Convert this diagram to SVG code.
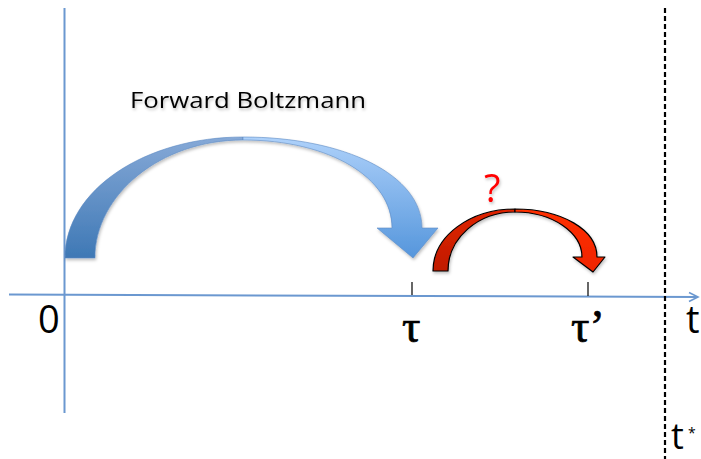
<svg xmlns="http://www.w3.org/2000/svg" width="701" height="459" viewBox="0 0 701 459">
<style>
.axis{stroke:#6b98d0;stroke-width:2;fill:none}
.tick{stroke:#000;stroke-width:1.2}
.lbl{font-family:"Open Sans","Liberation Sans",sans-serif;fill:#000}
.greek{font-family:"Liberation Serif","DejaVu Serif",serif;fill:#000;stroke:#000;stroke-width:0.7}
</style>
<defs>
<linearGradient id="bL" x1="0" y1="0" x2="0" y2="1"><stop offset="0" stop-color="#86a9d7"/><stop offset="1" stop-color="#3e78b5"/></linearGradient>
<linearGradient id="bR" x1="0" y1="0" x2="0" y2="1"><stop offset="0" stop-color="#aed1fa"/><stop offset="1" stop-color="#5596dc"/></linearGradient>
<linearGradient id="rL" x1="0" y1="0" x2="0" y2="1"><stop offset="0" stop-color="#e02400"/><stop offset="1" stop-color="#c01c00"/></linearGradient>
<linearGradient id="rR" x1="0" y1="0" x2="0" y2="1"><stop offset="0" stop-color="#ff3000"/><stop offset="1" stop-color="#f02400"/></linearGradient>
<marker id="ah" markerWidth="12" markerHeight="12" refX="10" refY="6" orient="auto" markerUnits="userSpaceOnUse"><path d="M1,1.5 L10,6 L1,10.5" fill="none" stroke="#6b98d0" stroke-width="1.6"/></marker>
<filter id="sh" x="-10%" y="-10%" width="120%" height="130%"><feDropShadow dx="1" dy="2" stdDeviation="1.5" flood-opacity="0.25"/></filter>
</defs>
<g id="axes">
<line class="axis" x1="64.5" y1="8" x2="64.5" y2="413"/>
<line class="axis" x1="9" y1="294.5" x2="698" y2="297" marker-end="url(#ah)"/>
<line class="tick" x1="412" y1="282" x2="412" y2="295"/>
<line class="tick" x1="588" y1="282" x2="588" y2="296"/>
<line x1="665" y1="8" x2="665" y2="459" stroke="#000" stroke-width="2.2" stroke-dasharray="5 3"/>
</g>
<g id="labels">
<text class="lbl" x="38" y="333" font-size="38">0</text>
<text class="greek" x="402" y="342" font-size="46">τ</text>
<text class="greek" x="571" y="342" font-size="46">τ’</text>
<text class="lbl" x="686" y="333" font-size="38">t</text>
<text class="lbl" x="671" y="449" font-size="36">t</text>
<text class="lbl" x="688" y="438" font-size="14">*</text>
</g>
<g id="forward" filter="url(#sh)">
<path d="M65,258 C65,190 145,137 243,137 L243,140 C160,140 95,195 95,258 Z" fill="url(#bL)" stroke="#5e8cc4" stroke-width="0.6"/>
<path d="M243,137 C345,137 422,175 422,228 L438,228 L413,258 L377,228 L392,228 C392,178 330,140 243,140 Z" fill="url(#bR)" stroke="#5e8cc4" stroke-width="0.6"/>
<text class="lbl" x="130" y="108" font-size="22" textLength="236" lengthAdjust="spacingAndGlyphs">Forward Boltzmann</text>
</g>
<g id="unknown" filter="url(#sh)">
<path d="M433,271 C433,236 470,209 515,209 L515,212 C478,212 448,238 448,271 Z" fill="url(#rL)" stroke="#000" stroke-width="1.2" stroke-linejoin="round"/>
<path d="M515,209 C562,209 597,230 597,257 L605,257 L593,272 L573,257 L582,257 C582,233 553,212 515,212 Z" fill="url(#rR)" stroke="#000" stroke-width="1.2" stroke-linejoin="round"/>
<text x="484" y="202" font-size="38" fill="#ff0000" font-family="Open Sans, Liberation Sans, sans-serif">?</text>
</g>
</svg>
